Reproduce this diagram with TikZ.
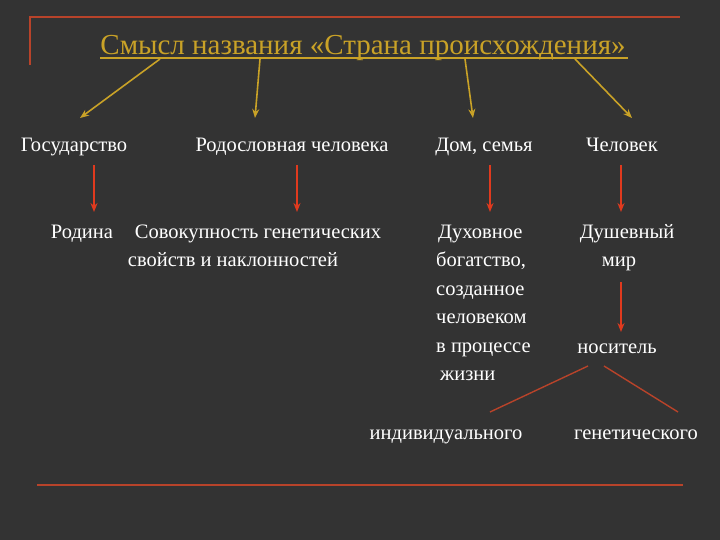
\documentclass[tikz,border=0pt]{standalone}
\usepackage{fontspec}
\setmainfont{Liberation Serif}
\usetikzlibrary{arrows.meta}
\definecolor{bg}{HTML}{333333}
\definecolor{gold}{HTML}{C9A227}
\definecolor{rl}{HTML}{B8432A}
\definecolor{ra}{HTML}{E03A1E}
\begin{document}
\begin{tikzpicture}[x=1pt,y=-1pt,
  txt/.style={text=white,font=\fontsize{20.5}{22}\selectfont,inner sep=0pt,anchor=base},
  yarr/.style={gold,line width=1.6pt,-{Stealth[length=9pt,width=7pt]}},
  rarr/.style={ra,line width=1.6pt,-{Stealth[length=9pt,width=7pt]}},
  rline/.style={rl,line width=2pt}]
\fill[bg] (0,0) rectangle (720,540);
\useasboundingbox (0,0) rectangle (720,540);
\draw[rline] (30,65) -- (30,17) -- (680,17);
\draw[rline] (37,485) -- (683,485);
\node[text=gold,font=\fontsize{29}{31}\selectfont,inner sep=0pt,anchor=base] (t) at (363,55) {Смысл названия «Страна происхождения»};
\draw[gold,line width=1.6pt] (100,58) -- (628,58);
\coordinate (s1) at (160,59); \coordinate (s2) at (260,59);
\coordinate (s3) at (465,59); \coordinate (s4) at (575,59);
\coordinate (e1) at (80,118); \coordinate (e2) at (255,118);
\coordinate (e3) at (473,118); \coordinate (e4) at (632,118);
\foreach \i in {1,2,3,4} \draw[yarr] (s\i) -- (e\i);
\node[txt] (a1) at (74,152) {Государство};
\node[txt] (a2) at (292,152) {Родословная человека};
\node[txt] (a3) at (484,152) {Дом, семья};
\node[txt] (a4) at (622,152) {Человек};
\coordinate (r1) at (94,165); \coordinate (q1) at (94,212);
\coordinate (r2) at (297,165); \coordinate (q2) at (297,212);
\coordinate (r3) at (490,165); \coordinate (q3) at (490,212);
\coordinate (r4) at (621,165); \coordinate (q4) at (621,212);
\foreach \i in {1,2,3,4} \draw[rarr] (r\i) -- (q\i);
\node[txt] (b1) at (82,238) {Родина};
\node[txt] (b2) at (258,238) {Совокупность генетических};
\node[txt] (b2b) at (233,266) {свойств и наклонностей};
\node[txt,anchor=base west] (c1) at (438,238) {Духовное};
\node[txt,anchor=base west] (c2) at (436,266) {богатство,};
\node[txt,anchor=base west] (c3) at (436,295) {созданное};
\node[txt,anchor=base west] (c4) at (436,323) {человеком};
\node[txt,anchor=base west] (c5) at (436,352) {в процессе};
\node[txt,anchor=base west] (c6) at (440,380) {жизни};
\node[txt] (d1) at (627,238) {Душевный};
\node[txt] (d2) at (619,266) {мир};
\coordinate (m1) at (621,282); \coordinate (m2) at (621,332);
\draw[rarr] (m1) -- (m2);
\node[txt] (n) at (617,353) {носитель};
\coordinate (l0) at (588,366); \coordinate (l1) at (490,412);
\coordinate (l2) at (604,366); \coordinate (l3) at (678,412);
\draw[rline,line width=1.4pt] (l0) -- (l1);
\draw[rline,line width=1.4pt] (l2) -- (l3);
\node[txt] (i1) at (446,439) {индивидуального};
\node[txt] (i2) at (636,439) {генетического};
\end{tikzpicture}
\end{document}
